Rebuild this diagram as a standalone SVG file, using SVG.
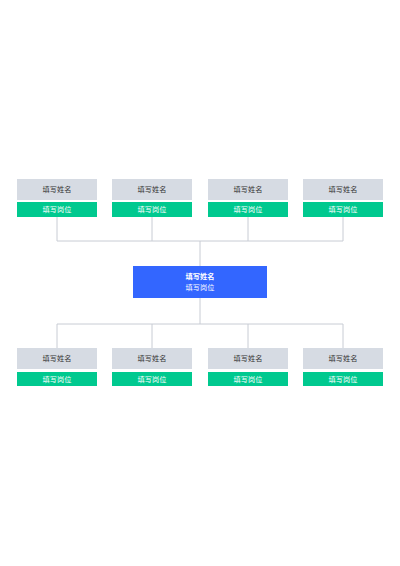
<svg xmlns="http://www.w3.org/2000/svg" width="400" height="566" viewBox="0 0 400 566">
<style>
.nm{fill:#d6dbe3}
.ps{fill:#00c98f}
.tn{font-family:"Noto Sans CJK SC","Noto Sans",sans-serif;font-size:7.2px;fill:#333;text-anchor:middle}
.tp{font-family:"Noto Sans CJK SC","Noto Sans",sans-serif;font-size:7.2px;fill:#fff;text-anchor:middle}
.ln{fill:none;stroke:#c8ccd4;stroke-width:1}
</style>
<rect width="400" height="566" fill="#fff"/>
<g id="connectors">
<path class="ln" d="M57,217V241H343V217M152,217V241M248,217V241M200,241V266"/>
<path class="ln" d="M200,298V324M57,348V324H343V348M152,324V348M248,324V348"/>
</g>
<g id="center">
<rect x="133" y="266" width="134" height="32" fill="#3366ff"/>
<text x="200" y="278.5" class="tp" font-weight="bold">填写姓名</text>
<text x="200" y="290" class="tp">填写岗位</text>
</g>
<g id="t1"><rect class="nm" x="17" y="179" width="80" height="21"/><text class="tn" x="57" y="192">填写姓名</text><rect class="ps" x="17" y="202" width="80" height="15"/><text class="tp" x="57" y="212">填写岗位</text></g>
<g id="t2"><rect class="nm" x="112" y="179" width="80" height="21"/><text class="tn" x="152" y="192">填写姓名</text><rect class="ps" x="112" y="202" width="80" height="15"/><text class="tp" x="152" y="212">填写岗位</text></g>
<g id="t3"><rect class="nm" x="208" y="179" width="80" height="21"/><text class="tn" x="248" y="192">填写姓名</text><rect class="ps" x="208" y="202" width="80" height="15"/><text class="tp" x="248" y="212">填写岗位</text></g>
<g id="t4"><rect class="nm" x="303" y="179" width="80" height="21"/><text class="tn" x="343" y="192">填写姓名</text><rect class="ps" x="303" y="202" width="80" height="15"/><text class="tp" x="343" y="212">填写岗位</text></g>
<g id="b1"><rect class="nm" x="17" y="348" width="80" height="21"/><text class="tn" x="57" y="361">填写姓名</text><rect class="ps" x="17" y="372" width="80" height="14"/><text class="tp" x="57" y="381.5">填写岗位</text></g>
<g id="b2"><rect class="nm" x="112" y="348" width="80" height="21"/><text class="tn" x="152" y="361">填写姓名</text><rect class="ps" x="112" y="372" width="80" height="14"/><text class="tp" x="152" y="381.5">填写岗位</text></g>
<g id="b3"><rect class="nm" x="208" y="348" width="80" height="21"/><text class="tn" x="248" y="361">填写姓名</text><rect class="ps" x="208" y="372" width="80" height="14"/><text class="tp" x="248" y="381.5">填写岗位</text></g>
<g id="b4"><rect class="nm" x="303" y="348" width="80" height="21"/><text class="tn" x="343" y="361">填写姓名</text><rect class="ps" x="303" y="372" width="80" height="14"/><text class="tp" x="343" y="381.5">填写岗位</text></g>
</svg>
